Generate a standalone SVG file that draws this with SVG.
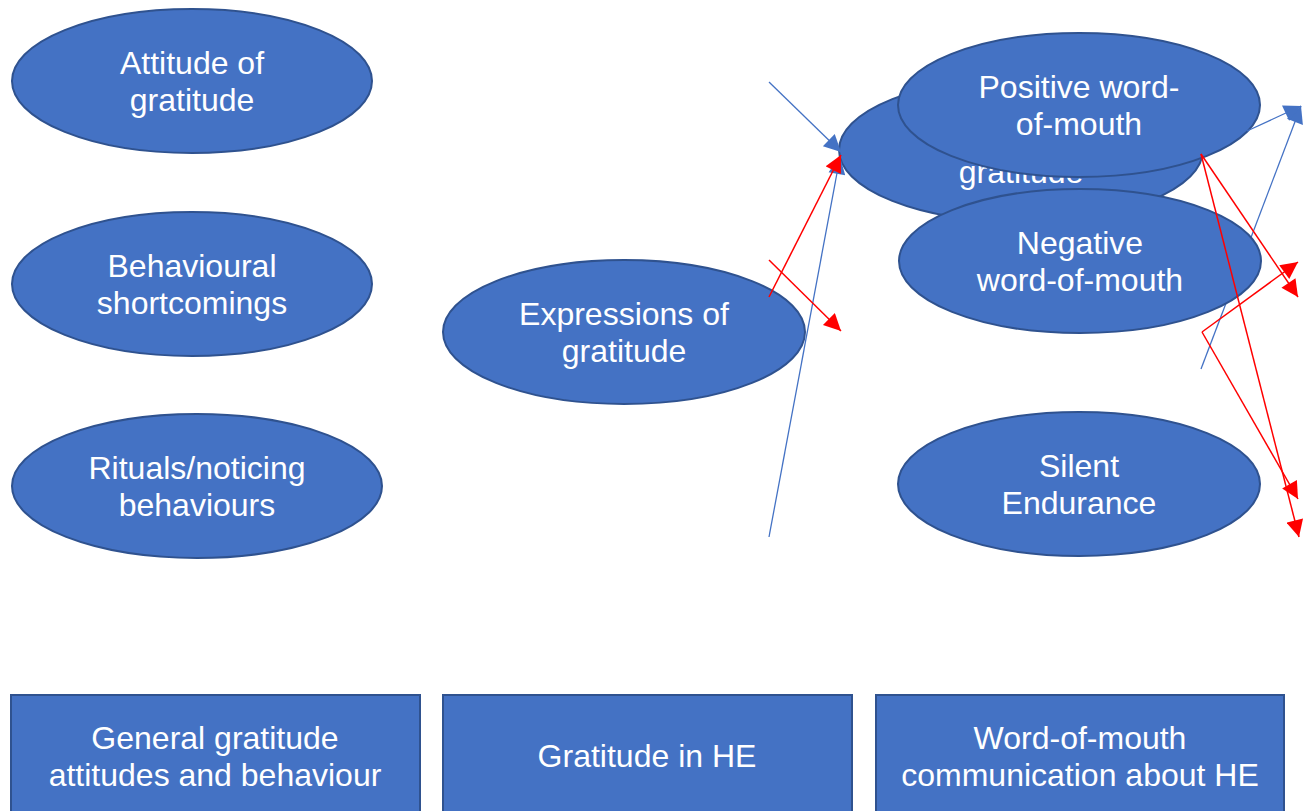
<svg xmlns="http://www.w3.org/2000/svg" width="1309" height="811" viewBox="0 0 1309 811">
<defs>
<style>
.node ellipse,.node rect{fill:#4472C4;stroke:#2F528F;stroke-width:2}
.node text{font-family:"Liberation Sans",Arial,sans-serif;font-size:32px;fill:#FFFFFF;text-anchor:middle}
.blue{stroke:#4472C4;stroke-width:1.3;fill:none;marker-end:url(#ab)}
.red{stroke:#FF0000;stroke-width:1.5;fill:none;marker-end:url(#ar)}
</style>
<marker id="ab" viewBox="0 0 10 10" refX="10" refY="5" markerWidth="19" markerHeight="17" markerUnits="userSpaceOnUse" orient="auto"><path d="M0,0L10,5L0,10z" fill="#4472C4"/></marker>
<marker id="ar" viewBox="0 0 10 10" refX="10" refY="5" markerWidth="19" markerHeight="17" markerUnits="userSpaceOnUse" orient="auto"><path d="M0,0L10,5L0,10z" fill="#FF0000"/></marker>
</defs>
<rect width="1309" height="811" fill="#FFFFFF"/>
<g id="connectors-back">
<line class="blue" x1="1201" y1="369" x2="1301" y2="106"/>
</g>
<g id="attitude" class="node"><ellipse cx="192" cy="81" rx="180" ry="72"/><text x="192" y="74">Attitude of</text><text x="192" y="111">gratitude</text></g>
<g id="behavioural" class="node"><ellipse cx="192" cy="284" rx="180" ry="72"/><text x="192" y="277">Behavioural</text><text x="192" y="314">shortcomings</text></g>
<g id="rituals" class="node"><ellipse cx="197" cy="486" rx="185" ry="72"/><text x="197" y="479">Rituals/noticing</text><text x="197" y="516">behaviours</text></g>
<g id="expressions" class="node"><ellipse cx="624" cy="332" rx="181" ry="72"/><text x="624" y="325">Expressions of</text><text x="624" y="362">gratitude</text></g>
<g id="hidden" class="node"><ellipse cx="1021" cy="150" rx="182" ry="72"/><text x="1021" y="183">gratitude</text></g>
<g id="positive" class="node"><ellipse cx="1079" cy="105" rx="181" ry="72"/><text x="1079" y="98">Positive word-</text><text x="1079" y="135">of-mouth</text></g>
<g id="negative" class="node"><ellipse cx="1080" cy="261" rx="181" ry="72"/><text x="1080" y="254">Negative</text><text x="1080" y="291">word-of-mouth</text></g>
<g id="silent" class="node"><ellipse cx="1079" cy="484" rx="181" ry="72"/><text x="1079" y="477">Silent</text><text x="1079" y="514">Endurance</text></g>
<g id="general" class="node"><rect x="11" y="695" width="409" height="130"/><text x="215" y="749">General gratitude</text><text x="215" y="786">attitudes and behaviour</text></g>
<g id="gratitude-he" class="node"><rect x="443" y="695" width="409" height="130"/><text x="647" y="767">Gratitude in HE</text></g>
<g id="wom" class="node"><rect x="876" y="695" width="408" height="130"/><text x="1080" y="749">Word-of-mouth</text><text x="1080" y="786">communication about HE</text></g>
<g id="connectors">
<line class="blue" x1="769" y1="82" x2="841" y2="152"/>
<line class="blue" x1="769" y1="537" x2="840" y2="157"/>
<line class="red" x1="769" y1="297" x2="841" y2="155"/>
<line class="red" x1="769" y1="260" x2="841" y2="331"/>
<line class="blue" x1="1247" y1="131" x2="1301" y2="106"/>
<line class="red" x1="1201" y1="154" x2="1298" y2="297"/>
<line class="red" x1="1201" y1="154" x2="1299" y2="537"/>
<line class="red" x1="1202" y1="332" x2="1298" y2="262"/>
<line class="red" x1="1202" y1="332" x2="1298" y2="499"/>
</g>
</svg>
